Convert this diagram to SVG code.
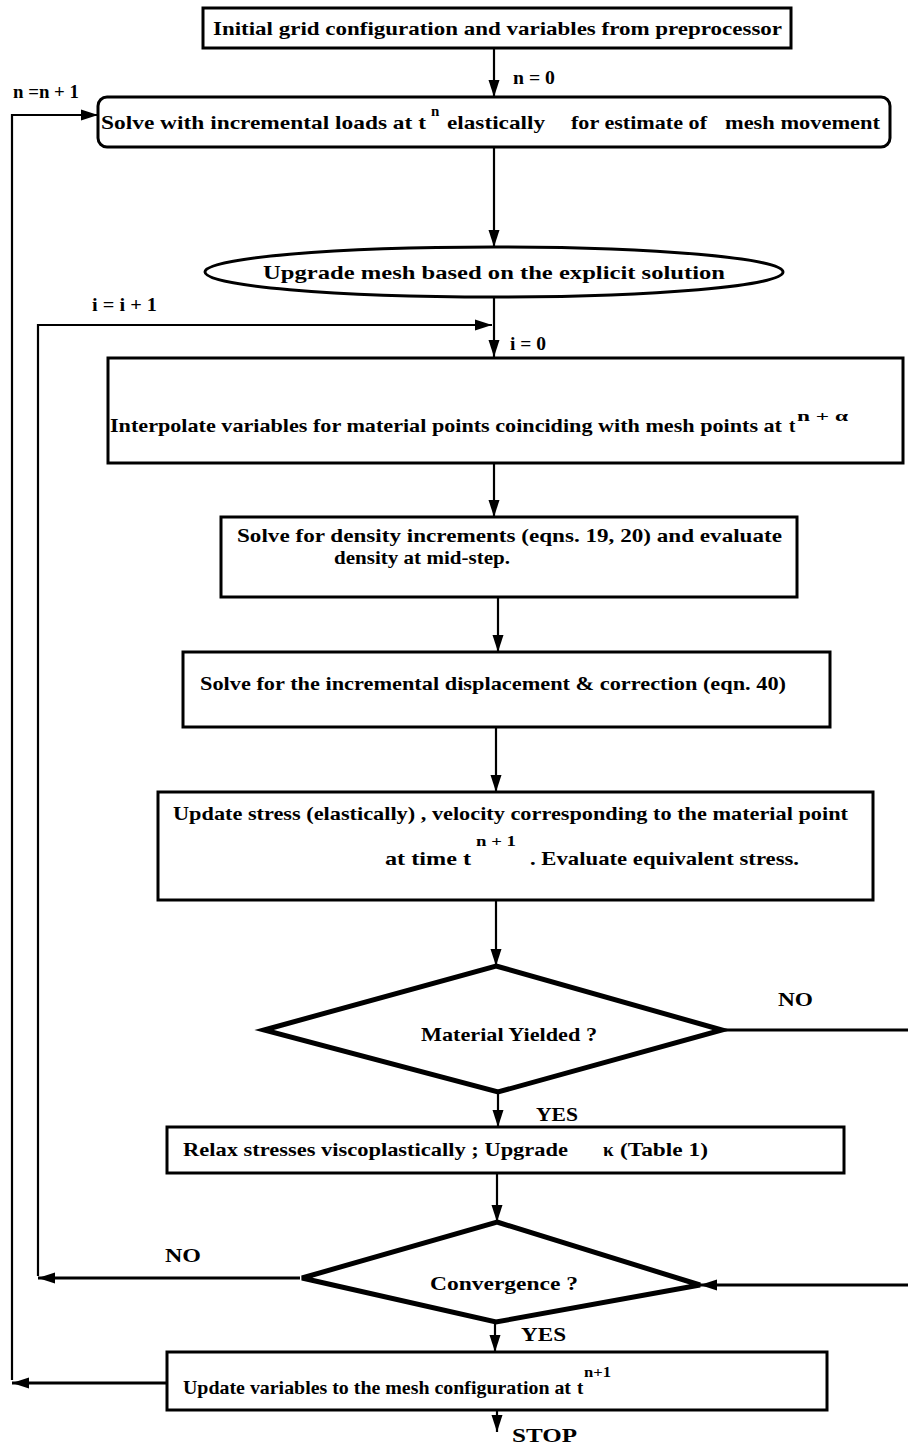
<svg xmlns="http://www.w3.org/2000/svg" width="908" height="1445" viewBox="0 0 908 1445">
<style>
.t{font-family:"Liberation Serif","DejaVu Serif",serif;font-weight:bold;font-size:19px;fill:#000}
.s{font-family:"Liberation Serif","DejaVu Serif",serif;font-weight:bold;font-size:15px;fill:#000}
.box{fill:#fff;stroke:#000;stroke-width:3}
.dia{fill:#fff;stroke:#000;stroke-width:5;stroke-linejoin:miter}
.c{fill:none;stroke:#000;stroke-width:2.2}
.ct{fill:none;stroke:#000;stroke-width:3}
</style>
<defs>
<marker id="ah" markerUnits="userSpaceOnUse" markerWidth="18" markerHeight="12" refX="17" refY="6" orient="auto">
<path d="M0,0.5 L17,6 L0,11.5 z" fill="#000"/>
</marker>
</defs>
<g id="connectors">
<path class="c" d="M494,48 L494,97" marker-end="url(#ah)"/>
<path class="c" d="M494,147 L494,247" marker-end="url(#ah)"/>
<path class="c" d="M494,297 L494,357" marker-end="url(#ah)"/>
<path class="c" d="M494,463 L494,517" marker-end="url(#ah)"/>
<path class="c" d="M498,597 L498,652" marker-end="url(#ah)"/>
<path class="c" d="M496,727 L496,792" marker-end="url(#ah)"/>
<path class="c" d="M496,900 L496,966" marker-end="url(#ah)"/>
<path class="c" d="M498,1092 L498,1127" marker-end="url(#ah)"/>
<path class="c" d="M497,1172 L497,1222" marker-end="url(#ah)"/>
<path class="c" d="M495,1322 L495,1352" marker-end="url(#ah)"/>
<path class="c" d="M497,1410 L497,1432" marker-end="url(#ah)"/>
<path class="ct" d="M720,1030 L908,1030"/>
<path class="ct" d="M908,1285 L700,1285" marker-end="url(#ah)"/>
<path class="ct" d="M300,1278 L38,1278" marker-end="url(#ah)"/>
<path class="c" d="M38,1276 L38,325 L492,325" marker-end="url(#ah)"/>
<path class="ct" d="M167,1383 L12,1383" marker-end="url(#ah)"/>
<path class="c" d="M12,1380 L12,115 L98,115" marker-end="url(#ah)"/>
</g>
<g id="n1">
<rect class="box" x="203" y="8" width="588" height="40"/>
<text class="t" x="213" y="35" textLength="569" lengthAdjust="spacingAndGlyphs">Initial grid configuration and variables from preprocessor</text>
</g>
<text class="t" x="513" y="84" textLength="42" lengthAdjust="spacingAndGlyphs">n = 0</text>
<text class="t" x="13" y="98" textLength="66" lengthAdjust="spacingAndGlyphs">n =n + 1</text>
<g id="n2">
<rect class="box" x="98" y="97" width="792" height="50" rx="9"/>
<text class="t" x="101" y="129" textLength="325" lengthAdjust="spacingAndGlyphs">Solve with incremental loads at  t</text>
<text class="s" x="431" y="116">n</text>
<text class="t" x="447" y="129" textLength="98" lengthAdjust="spacingAndGlyphs">elastically</text>
<text class="t" x="571" y="129" textLength="136" lengthAdjust="spacingAndGlyphs">for estimate of</text>
<text class="t" x="725" y="129" textLength="155" lengthAdjust="spacingAndGlyphs">mesh movement</text>
</g>
<g id="n3">
<ellipse class="box" cx="494" cy="272" rx="289" ry="25"/>
<text class="t" x="263" y="279" textLength="462" lengthAdjust="spacingAndGlyphs">Upgrade mesh based on the explicit solution</text>
</g>
<text class="t" x="92" y="311" textLength="65" lengthAdjust="spacingAndGlyphs">i = i + 1</text>
<text class="t" x="510" y="350" textLength="36" lengthAdjust="spacingAndGlyphs">i = 0</text>
<g id="n4">
<rect class="box" x="108" y="358" width="795" height="105"/>
<text class="t" x="110" y="432" textLength="672" lengthAdjust="spacingAndGlyphs">Interpolate variables for material points coinciding with mesh points at</text>
<text class="t" x="789" y="432">t</text>
<text class="s" x="797" y="421" textLength="51" lengthAdjust="spacingAndGlyphs">n + α</text>
</g>
<g id="n5">
<rect class="box" x="221" y="517" width="576" height="80"/>
<text class="t" x="237" y="542" textLength="545" lengthAdjust="spacingAndGlyphs">Solve for density increments (eqns. 19, 20)  and evaluate</text>
<text class="t" x="334" y="564" textLength="176" lengthAdjust="spacingAndGlyphs">density  at mid-step.</text>
</g>
<g id="n6">
<rect class="box" x="183" y="652" width="647" height="75"/>
<text class="t" x="200" y="690" textLength="586" lengthAdjust="spacingAndGlyphs">Solve for the incremental displacement &amp; correction (eqn. 40)</text>
</g>
<g id="n7">
<rect class="box" x="158" y="792" width="715" height="108"/>
<text class="t" x="173" y="820" textLength="675" lengthAdjust="spacingAndGlyphs">Update stress (elastically) , velocity corresponding to the material point</text>
<text class="t" x="385" y="865" textLength="86" lengthAdjust="spacingAndGlyphs">at  time t</text>
<text class="s" x="476" y="846" textLength="40" lengthAdjust="spacingAndGlyphs">n + 1</text>
<text class="t" x="530" y="865" textLength="269" lengthAdjust="spacingAndGlyphs">. Evaluate equivalent stress.</text>
</g>
<g id="n8">
<polygon class="dia" points="496,966 722,1030 498,1092 264,1030"/>
<text class="t" x="421" y="1041" textLength="176" lengthAdjust="spacingAndGlyphs">Material Yielded  ?</text>
</g>
<text class="t" x="778" y="1006" textLength="35" lengthAdjust="spacingAndGlyphs">NO</text>
<text class="t" x="536" y="1121" textLength="42" lengthAdjust="spacingAndGlyphs">YES</text>
<g id="n9">
<rect class="box" x="167" y="1127" width="677" height="46"/>
<text class="t" x="183" y="1156" textLength="385" lengthAdjust="spacingAndGlyphs">Relax stresses viscoplastically ; Upgrade</text>
<text class="t" x="603" y="1156">κ</text>
<text class="t" x="620" y="1156" textLength="88" lengthAdjust="spacingAndGlyphs">(Table 1)</text>
</g>
<g id="n10">
<polygon class="dia" points="497,1222 700,1285 496,1322 302,1278"/>
<text class="t" x="430" y="1290" textLength="148" lengthAdjust="spacingAndGlyphs">Convergence  ?</text>
</g>
<text class="t" x="165" y="1262" textLength="36" lengthAdjust="spacingAndGlyphs">NO</text>
<text class="t" x="521" y="1341" textLength="45" lengthAdjust="spacingAndGlyphs">YES</text>
<g id="n11">
<rect class="box" x="167" y="1352" width="660" height="58"/>
<text class="t" x="183" y="1394" textLength="388" lengthAdjust="spacingAndGlyphs">Update variables to the mesh configuration at</text>
<text class="t" x="577" y="1394">t</text>
<text class="s" x="584" y="1377" textLength="27" lengthAdjust="spacingAndGlyphs">n+1</text>
</g>
<text class="t" x="512" y="1442" textLength="65" lengthAdjust="spacingAndGlyphs">STOP</text>
</svg>
